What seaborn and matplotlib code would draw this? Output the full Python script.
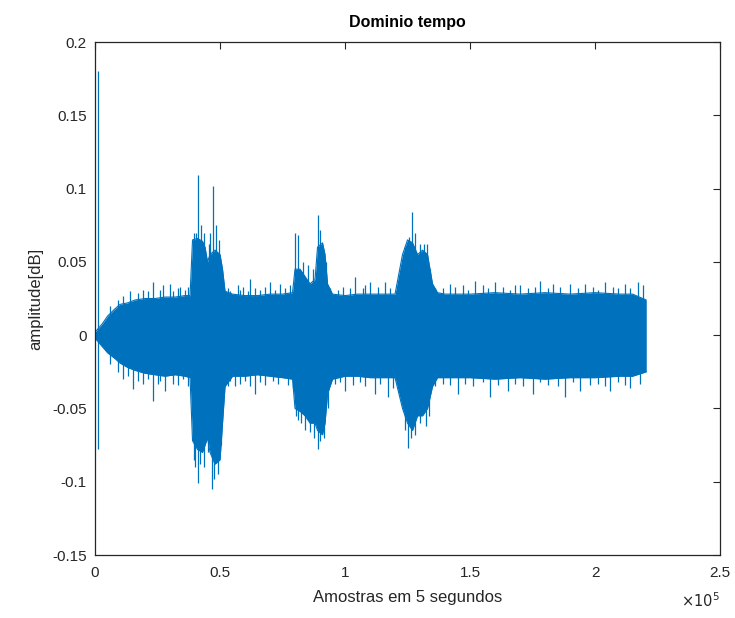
import numpy as np
import pandas as pd
import matplotlib
matplotlib.use("Agg")
import matplotlib.pyplot as plt
import seaborn as sns

# Envelope of the waveform (x in thousands of samples)
env_x = [0, 1, 3, 5, 8, 10, 13, 16, 20, 24, 28, 32, 36, 38,
         39, 41, 43, 44, 45, 46, 48, 50, 51, 52, 55, 60, 65, 70, 75, 79,
         80, 82, 84, 86, 88, 89, 91, 92, 93, 95, 100, 105, 110, 115, 120,
         123, 125, 127, 129, 131, 133, 135, 137, 140, 150, 160, 170, 180,
         190, 200, 210, 215, 220.5]
env_upper = [0.002, 0.004, 0.008, 0.013, 0.018, 0.021, 0.022, 0.024, 0.025, 0.025, 0.026, 0.026, 0.027, 0.027,
             0.065, 0.066, 0.064, 0.060, 0.050, 0.055, 0.058, 0.055, 0.045, 0.030, 0.028, 0.027, 0.027, 0.028, 0.028, 0.029,
             0.045, 0.045, 0.040, 0.035, 0.038, 0.060, 0.063, 0.055, 0.035, 0.028, 0.027, 0.028, 0.028, 0.028, 0.028,
             0.055, 0.065, 0.063, 0.055, 0.058, 0.055, 0.035, 0.029, 0.028, 0.028, 0.029, 0.028, 0.029,
             0.028, 0.029, 0.028, 0.028, 0.024]
env_lower = [-0.002, -0.004, -0.008, -0.012, -0.016, -0.019, -0.022, -0.024, -0.026, -0.027, -0.028, -0.027, -0.028, -0.029,
             -0.072, -0.078, -0.080, -0.075, -0.070, -0.080, -0.088, -0.085, -0.060, -0.035, -0.028, -0.028, -0.027, -0.028, -0.029, -0.030,
             -0.050, -0.052, -0.055, -0.060, -0.060, -0.065, -0.068, -0.060, -0.040, -0.030, -0.028, -0.028, -0.029, -0.029, -0.029,
             -0.050, -0.060, -0.065, -0.055, -0.055, -0.050, -0.035, -0.029, -0.029, -0.029, -0.030, -0.029, -0.030,
             -0.029, -0.029, -0.028, -0.028, -0.025]

# Peaks that stick out of the envelope (x in thousands of samples)
spike_up_x = [1, 41.2, 42.4, 47.2, 80, 81.2, 89.2, 125.6, 126.8, 132.8,
              14, 23, 30, 34, 57, 62, 70, 74, 104, 110, 116,
              142, 152, 160, 170, 178, 190, 196, 204, 212, 217,
              6, 9, 11, 17, 19, 21, 26, 27, 31, 33, 36, 37,
              39.5, 40.5, 43.5, 45.5, 46, 48.5, 49.5, 53, 54, 58, 59, 61, 64, 66, 68, 72, 76, 78,
              83, 85, 87, 90, 92.5, 94, 97, 99, 102, 107, 108, 113, 118, 121,
              124, 128, 130, 131.5, 134, 136, 139, 144, 147, 149, 155, 157, 163, 166, 168,
              173, 176, 181, 183, 186, 193, 199, 201, 207, 209, 214, 219]
spike_up_y = [0.18, 0.109, 0.075, 0.102, 0.070, 0.068, 0.082, 0.067, 0.084, 0.062,
              0.030, 0.036, 0.035, 0.033, 0.034, 0.038, 0.036, 0.035, 0.040, 0.036, 0.036,
              0.035, 0.037, 0.036, 0.034, 0.037, 0.035, 0.035, 0.036, 0.035, 0.036,
              0.020, 0.024, 0.027, 0.029, 0.031, 0.030, 0.031, 0.034, 0.030, 0.032, 0.031, 0.033,
              0.070, 0.070, 0.070, 0.062, 0.070, 0.075, 0.065, 0.032, 0.030, 0.031, 0.033, 0.030, 0.032, 0.031, 0.033, 0.031, 0.032, 0.034,
              0.050, 0.048, 0.045, 0.072, 0.050, 0.032, 0.031, 0.033, 0.032, 0.032, 0.034, 0.033, 0.032, 0.035,
              0.060, 0.070, 0.062, 0.062, 0.045, 0.032, 0.032, 0.033, 0.034, 0.031, 0.034, 0.032, 0.033, 0.031, 0.034,
              0.032, 0.033, 0.032, 0.035, 0.033, 0.032, 0.033, 0.031, 0.033, 0.032, 0.032, 0.034]
spike_dn_x = [1, 40, 41, 46.8, 81, 84, 89.2, 125.2, 132.4,
              15, 23, 28, 56, 64, 100, 112, 117,
              145, 158, 165, 175, 188, 194, 206, 214,
              6, 9, 11, 13, 17, 19, 21, 25, 26, 31, 33, 35, 37,
              39.5, 42, 43.5, 45, 47.5, 49, 50.5, 53, 54, 58, 60, 62, 66, 68, 71, 73, 77, 79,
              80.5, 82.5, 86, 87.5, 90, 91.5, 93, 96, 98, 103, 106, 108, 114, 119, 121.5,
              124, 126.5, 128, 130, 133.5, 136, 139, 142, 148, 151, 155, 161, 168, 171,
              178, 181, 185, 191, 198, 201, 204, 209, 212, 218]
spike_dn_y = [-0.078, -0.090, -0.101, -0.105, -0.058, -0.065, -0.078, -0.077, -0.062,
              -0.037, -0.045, -0.038, -0.035, -0.040, -0.038, -0.040, -0.042,
              -0.040, -0.042, -0.038, -0.040, -0.042, -0.038, -0.038, -0.036,
              -0.020, -0.025, -0.030, -0.028, -0.031, -0.033, -0.030, -0.033, -0.031, -0.033, -0.034, -0.030, -0.035,
              -0.085, -0.088, -0.090, -0.080, -0.098, -0.095, -0.075, -0.035, -0.031, -0.033, -0.031, -0.035, -0.032, -0.034, -0.031, -0.033, -0.034, -0.036,
              -0.055, -0.060, -0.066, -0.070, -0.072, -0.070, -0.050, -0.033, -0.032, -0.034, -0.032, -0.035, -0.033, -0.036, -0.038,
              -0.065, -0.070, -0.068, -0.060, -0.055, -0.035, -0.033, -0.034, -0.033, -0.035, -0.032, -0.034, -0.033, -0.035,
              -0.032, -0.034, -0.035, -0.032, -0.034, -0.033, -0.035, -0.032, -0.034, -0.033]

x_ticks = [0, 0.5, 1, 1.5, 2, 2.5]
x_tick_labels = ["0", "0.5", "1", "1.5", "2", "2.5"]
y_ticks = [-0.15, -0.1, -0.05, 0, 0.05, 0.1, 0.15, 0.2]
y_tick_labels = ["-0.15", "-0.1", "-0.05", "0", "0.05", "0.1", "0.15", "0.2"]

blue = "#0072BD"
grey = "#262626"

sns.set_style("white")
plt.rcParams["font.family"] = ["Liberation Sans", "DejaVu Sans"]

env = pd.DataFrame({
    "x": np.array(env_x) * 1e3,
    "upper": env_upper,
    "lower": env_lower,
})

fig, ax = plt.subplots(figsize=(7.35, 6.18), dpi=100)
fig.subplots_adjust(left=0.1293, right=0.9796, bottom=0.1019, top=0.932)

ax.fill_between(env["x"], env["lower"], env["upper"], color=blue, linewidth=0)
sns.lineplot(data=env, x="x", y="upper", color=blue, linewidth=0.8, ax=ax)
sns.lineplot(data=env, x="x", y="lower", color=blue, linewidth=0.8, ax=ax)

ax.vlines(np.array(spike_up_x) * 1e3, 0, spike_up_y, color=blue, linewidth=0.9)
ax.vlines(np.array(spike_dn_x) * 1e3, spike_dn_y, 0, color=blue, linewidth=0.9)

ax.set_xlim(0, 2.5e5)
ax.set_ylim(-0.15, 0.2)
ax.set_xticks(np.array(x_ticks) * 1e5)
ax.set_xticklabels(x_tick_labels)
ax.set_yticks(y_ticks)
ax.set_yticklabels(y_tick_labels)

ax.tick_params(direction="in", length=5, width=0.8, colors=grey,
               labelsize=11, top=True, right=True, pad=6)
ax.tick_params(axis="x", pad=8)
for s in ax.spines.values():
    s.set_color(grey)
    s.set_linewidth(0.9)

ax.set_title("Dominio tempo", fontsize=11.5, fontweight="bold", color="black", pad=11)
ax.set_xlabel("Amostras em 5 segundos", fontsize=12, color=grey, labelpad=7)
ax.set_ylabel("amplitude[dB]", fontsize=12, color=grey, labelpad=6)
ax.text(0.968, -0.088, r"$\times10^5$", transform=ax.transAxes,
        fontsize=10.5, color=grey, ha="center", va="center")

plt.savefig("out.png", dpi=100)
